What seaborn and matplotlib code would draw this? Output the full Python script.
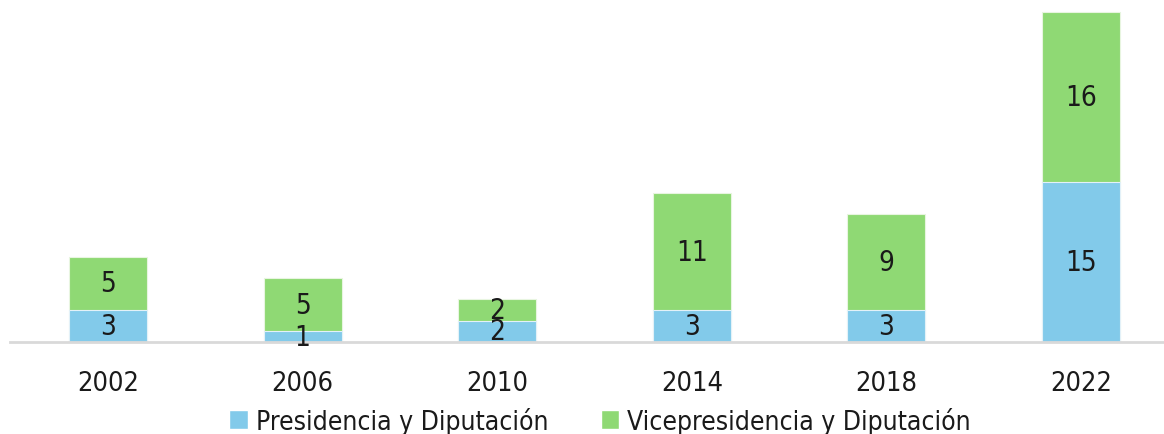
import matplotlib
matplotlib.use("Agg")
import matplotlib.pyplot as plt
from matplotlib.patches import Patch
import seaborn as sns
import pandas as pd

# data
years = ["2002", "2006", "2010", "2014", "2018", "2022"]
presidencia = [3, 1, 2, 3, 3, 15]
vicepresidencia = [5, 5, 2, 11, 9, 16]
series_names = ["Presidencia y Diputación", "Vicepresidencia y Diputación"]

blue = "#82CAEA"
green = "#8FD974"

sns.set_style("white")
plt.rcParams["font.family"] = ["DejaVu Sans"]
plt.rcParams["font.stretch"] = "condensed"

data = pd.DataFrame({
    "year": years,
    "presidencia": presidencia,
    "vicepresidencia": vicepresidencia,
})
data["total"] = data["presidencia"] + data["vicepresidencia"]

fig = plt.figure(figsize=(11.64, 4.35), dpi=100)
ax = fig.add_axes([10 / 1164, 92 / 435, 1154 / 1164, 338 / 435])

# stacked bars: total first (green), then the lower part (blue) on top
sns.barplot(data=data, x="year", y="total", color=green, width=0.4,
            saturation=1, edgecolor="#e8f5e0", linewidth=0.8, ax=ax)
sns.barplot(data=data, x="year", y="presidencia", color=blue, width=0.4,
            saturation=1, edgecolor="#e3f1f8", linewidth=0.8, ax=ax)

# value labels centred in each segment
for i, row in data.iterrows():
    ax.text(i, row["presidencia"] / 2, str(row["presidencia"]),
            ha="center", va="center", fontsize=20, color="#1a1a1a")
    ax.text(i, row["presidencia"] + row["vicepresidencia"] / 2,
            str(row["vicepresidencia"]),
            ha="center", va="center", fontsize=20, color="#1a1a1a")

ax.set_xlim(-0.504, 5.427)
ax.set_ylim(0, 31.75)

sns.despine(ax=ax, left=True, top=True, right=True)
ax.spines["bottom"].set_color("#d9d9d9")
ax.spines["bottom"].set_linewidth(2)
ax.set_yticks([])
ax.set_xlabel("")
ax.set_ylabel("")
ax.tick_params(axis="x", length=0, labelsize=19.5, pad=20, colors="#1a1a1a")

handles = [Patch(facecolor=blue, label=series_names[0]),
           Patch(facecolor=green, label=series_names[1])]
fig.legend(handles=handles, loc="center", bbox_to_anchor=(0.5155, 0.03),
           ncol=2, frameon=False, fontsize=19, handlelength=0.7,
           handleheight=0.7, handletextpad=0.3, columnspacing=2.0,
           labelcolor="#1a1a1a")

fig.savefig("out.png", dpi=100)
